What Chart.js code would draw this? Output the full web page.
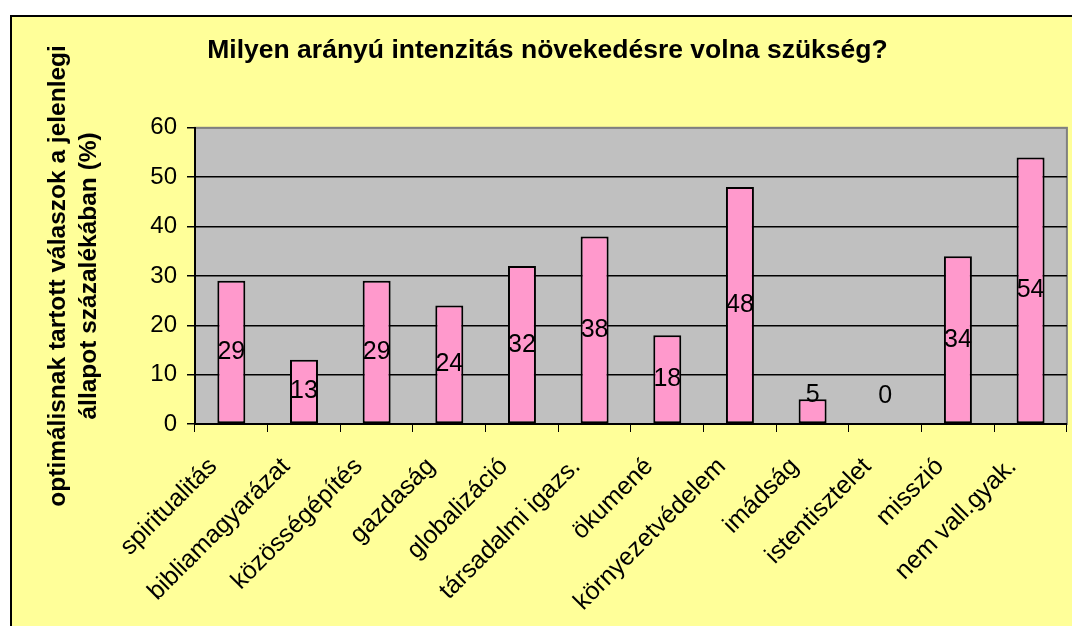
<!DOCTYPE html>
<html>
<head>
<meta charset="utf-8">
<script src="https://cdn.jsdelivr.net/npm/chart.js@4"></script>
<style>
  html, body { margin: 0; background: #fff; overflow: hidden; }
  #frame {
    position: absolute; left: 10px; top: 15px;
    width: 1060px; height: 609px;
    border-left: 2px solid #000; border-top: 2px solid #000;
    background: #FFFF99;
  }
</style>
</head>
<body>
<div id="frame"><canvas id="chart"></canvas></div>
<script>
// Données du graphique
const categories = [
    'spiritualitás', 'bibliamagyarázat', 'közösségépítés', 'gazdaság',
    'globalizáció', 'társadalmi igazs.', 'ökumené', 'környezetvédelem',
    'imádság', 'istentisztelet', 'misszió', 'nem vall.gyak.'
];
const values = [29, 13, 29, 24, 32, 38, 18, 48, 5, 0, 34, 54];
const yTicks = [0, 10, 20, 30, 40, 50, 60];

const chartTitle = 'Milyen arányú intenzitás növekedésre volna szükség?';
const yTitle = ['optimálisnak tartott válaszok a jelenlegi', 'állapot százalékában (%)'];

Chart.defaults.font.family = 'Arial, "Liberation Sans", sans-serif';
Chart.defaults.color = '#000';

// Fond gris de la zone de tracé
const plotBackground = {
    id: 'plotBackground',
    beforeDraw(chart) {
        const { ctx, chartArea: a } = chart;
        ctx.save();
        ctx.fillStyle = '#C0C0C0';
        ctx.fillRect(a.left, a.top, a.right - a.left, a.bottom - a.top);
        ctx.strokeStyle = '#808080';
        ctx.lineWidth = 2;
        ctx.strokeRect(a.left, a.top, a.right - a.left, a.bottom - a.top);
        ctx.restore();
    }
};

// Étiquettes de valeur au centre des barres
const barLabels = {
    id: 'barLabels',
    afterDatasetsDraw(chart) {
        const { ctx } = chart;
        const meta = chart.getDatasetMeta(0);
        ctx.save();
        ctx.font = '25px Arial, "Liberation Sans", sans-serif';
        ctx.fillStyle = '#000';
        ctx.textAlign = 'center';
        ctx.textBaseline = 'middle';
        meta.data.forEach((bar, i) => {
            const y = Math.min((bar.y + bar.base) / 2, bar.base - 28);
            ctx.fillText(String(values[i]), bar.x, y);
        });
        ctx.restore();
    }
};

new Chart(document.getElementById('chart'), {
    type: 'bar',
    data: {
        labels: categories,
        datasets: [{
            data: values,
            backgroundColor: '#FF99CC',
            borderColor: '#000',
            borderWidth: 2,
            borderSkipped: false,
            categoryPercentage: 1,
            barPercentage: 0.385
        }]
    },
    options: {
        responsive: true,
        maintainAspectRatio: false,
        animation: false,
        layout: { padding: { left: 16, right: 5, top: 0, bottom: 0 } },
        plugins: {
            legend: { display: false },
            tooltip: { enabled: false },
            title: {
                display: true,
                text: chartTitle,
                color: '#000',
                font: { size: 26.5, weight: 'bold' },
                padding: { top: 18, bottom: 61 }
            }
        },
        scales: {
            x: {
                offset: true,
                grid: {
                    offset: true,
                    drawOnChartArea: false,
                    tickLength: 8,
                    tickColor: '#000'
                },
                border: { color: '#000', width: 2 },
                ticks: {
                    autoSkip: false,
                    maxRotation: 45,
                    minRotation: 45,
                    padding: 20,
                    labelOffset: -18,
                    color: '#000',
                    font: { size: 25 }
                },
                afterFit(scale) { scale.height = 202; }
            },
            y: {
                min: yTicks[0],
                max: yTicks[yTicks.length - 1],
                afterBuildTicks(scale) { scale.ticks = yTicks.map(v => ({ value: v })); },
                grid: {
                    color: c => (c.tick && c.tick.value === 60) ? '#808080' : '#000',
                    lineWidth: 1.5,
                    tickLength: 8,
                    tickColor: '#000'
                },
                border: { color: '#000', width: 2 },
                ticks: {
                    padding: 10,
                    color: '#000',
                    font: { size: 24 }
                },
                title: {
                    display: true,
                    text: yTitle,
                    color: '#000',
                    font: { size: 24.5, weight: 'bold', lineHeight: 1.25 },
                    padding: { top: 15, bottom: 0 }
                },
                afterFit(scale) { scale.width = 167; }
            }
        }
    },
    plugins: [plotBackground, barLabels]
});
</script>
</body>
</html>
